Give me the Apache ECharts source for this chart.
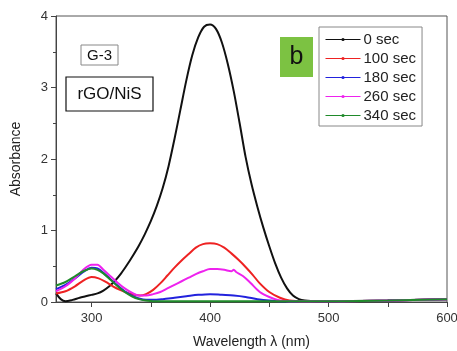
<!DOCTYPE html>
<html>
<head>
<meta charset="utf-8">
<script src="https://cdn.jsdelivr.net/npm/echarts@6/dist/echarts.min.js"></script>
<style>html,body{margin:0;padding:0;background:#fff}#c{width:457px;height:351px}</style>
</head>
<body>
<div id="c"></div>
<script>
// ---- data ----
var seriesNames = ['0 sec', '100 sec', '180 sec', '260 sec', '340 sec'];
var xTickLabels = [300, 400, 500, 600];
var xTicks = [300, 350, 400, 450, 500, 550, 600];

var wl0 = [270,274,278,284,290,295,300,305,310,315,320,325,330,335,340,345,350,355,360,365,370,375,380,385,390,395,400,405,410,415,420,425,430,435,440,445,450,455,460,465,470,475,480,490,500,520,550,575,600];
var abs0 = [0.12,0.04,0.01,0.03,0.06,0.08,0.10,0.12,0.16,0.22,0.30,0.40,0.52,0.65,0.79,0.95,1.13,1.34,1.59,1.90,2.28,2.69,3.10,3.45,3.70,3.85,3.88,3.82,3.63,3.33,2.95,2.50,2.03,1.65,1.33,1.04,0.78,0.54,0.34,0.19,0.09,0.04,0.02,0.01,0.01,0.015,0.02,0.03,0.04];

var wl100 = [270,278,286,293,300,306,312,318,324,330,336,341,346,352,358,364,370,376,382,388,394,400,406,412,418,424,430,436,442,450,459,467,480,500,550,600];
var abs100 = [0.12,0.15,0.22,0.30,0.35,0.33,0.28,0.22,0.17,0.13,0.10,0.09,0.11,0.17,0.26,0.37,0.48,0.58,0.67,0.76,0.81,0.82,0.81,0.76,0.68,0.59,0.49,0.38,0.26,0.14,0.06,0.02,0.01,0.01,0.02,0.04];

var wl180 = [270,278,286,293,300,305,310,316,322,328,334,340,346,352,360,370,380,390,400,410,420,430,440,450,460,500,550,600];
var abs180 = [0.18,0.24,0.33,0.42,0.48,0.47,0.41,0.32,0.23,0.15,0.09,0.05,0.03,0.03,0.04,0.06,0.08,0.10,0.11,0.10,0.09,0.07,0.04,0.02,0.01,0.01,0.02,0.04];

var wl260 = [270,278,286,293,300,305,310,316,322,328,334,340,346,352,358,364,370,376,382,388,394,400,406,412,418,420,422,428,434,442,450,459,470,500,550,600];
var abs260 = [0.15,0.22,0.33,0.45,0.52,0.52,0.45,0.36,0.27,0.19,0.13,0.09,0.09,0.11,0.14,0.19,0.24,0.29,0.34,0.39,0.43,0.46,0.46,0.45,0.43,0.45,0.42,0.36,0.27,0.14,0.07,0.02,0.01,0.01,0.02,0.04];

var wl340 = [270,278,286,293,300,305,310,316,322,328,334,340,346,352,380,420,460,500,550,600];
var abs340 = [0.23,0.28,0.36,0.43,0.47,0.45,0.40,0.31,0.22,0.14,0.08,0.04,0.02,0.01,0.01,0.01,0.01,0.01,0.02,0.04];

var colors = ['#111111', '#ee2222', '#2222dd', '#ee22ee', '#1f8a2a'];
var wls = [wl0, wl100, wl180, wl260, wl340];
var abss = [abs0, abs100, abs180, abs260, abs340];

function pairs(x, y) { return x.map(function (v, i) { return [v, y[i]]; }); }

var series = seriesNames.map(function (n, i) {
  return {
    name: n, type: 'line', data: pairs(wls[i], abss[i]),
    smooth: 0.3, symbol: 'circle', symbolSize: 3, showSymbol: false,
    lineStyle: { color: colors[i], width: 2 }, itemStyle: { color: colors[i] },
    animation: false
  };
});

var font = 'Liberation Sans, Arial, sans-serif';
var chart = echarts.init(document.getElementById('c'));
chart.setOption({
  animation: false,
  grid: { left: 56, right: 10, top: 16, bottom: 49, show: true, borderColor: '#555', borderWidth: 1, containLabel: false, outerBoundsMode: 'none' },
  xAxis: {
    type: 'value', min: 270, max: 600,
    name: 'Wavelength \u03bb (nm)', nameLocation: 'middle', nameGap: 33,
    nameTextStyle: { fontSize: 14, color: '#222', fontFamily: font },
    axisLine: { lineStyle: { color: '#444', width: 1 } },
    axisTick: { show: true, length: 5, lineStyle: { color: '#444' }, customValues: xTicks },
    axisLabel: { fontSize: 13, color: '#333', fontFamily: font, customValues: xTickLabels, margin: 10 },
    splitLine: { show: false }
  },
  yAxis: {
    type: 'value', min: 0, max: 4, interval: 1,
    name: 'Absorbance', nameLocation: 'middle', nameGap: 33,
    nameTextStyle: { fontSize: 14, color: '#222', fontFamily: font },
    axisLine: { show: true, lineStyle: { color: '#444', width: 1 } },
    axisTick: { show: true, length: 5, lineStyle: { color: '#444' } },
    minorTick: { show: true, splitNumber: 2, length: 3, lineStyle: { color: '#444' } },
    axisLabel: { fontSize: 13, color: '#333', fontFamily: font, margin: 8 },
    splitLine: { show: false }
  },
  legend: {
    data: seriesNames, orient: 'vertical', left: 319, top: 27,
    itemWidth: 35, itemHeight: 4, itemGap: 4,
    padding: [5, 6, 3, 6],
    borderColor: '#888', borderWidth: 1,
    lineStyle: { width: 1 },
    textStyle: { fontSize: 15, color: '#222', fontFamily: font, padding: [0, 0, 0, -2] }
  },
  graphic: [
    { type: 'rect', shape: { x: 81, y: 45, width: 37, height: 20 }, style: { fill: '#fff', stroke: '#888', lineWidth: 1 }, z: 10 },
    { type: 'text', x: 99.5, y: 55.5, style: { text: 'G-3', font: '15px ' + font, fill: '#111', textAlign: 'center', textVerticalAlign: 'middle' }, z: 11 },
    { type: 'rect', shape: { x: 66, y: 77, width: 87, height: 34 }, style: { fill: '#fff', stroke: '#111', lineWidth: 1.2 }, z: 10 },
    { type: 'text', x: 109.5, y: 94.5, style: { text: 'rGO/NiS', font: '17px ' + font, fill: '#111', textAlign: 'center', textVerticalAlign: 'middle' }, z: 11 },
    { type: 'rect', shape: { x: 280, y: 37, width: 33, height: 40 }, style: { fill: '#7cc242', stroke: 'none' }, z: 10 },
    { type: 'text', x: 296.5, y: 57, style: { text: 'b', font: '25px ' + font, fill: '#111', textAlign: 'center', textVerticalAlign: 'middle' }, z: 11 }
  ],
  series: series
});
</script>
</body>
</html>
